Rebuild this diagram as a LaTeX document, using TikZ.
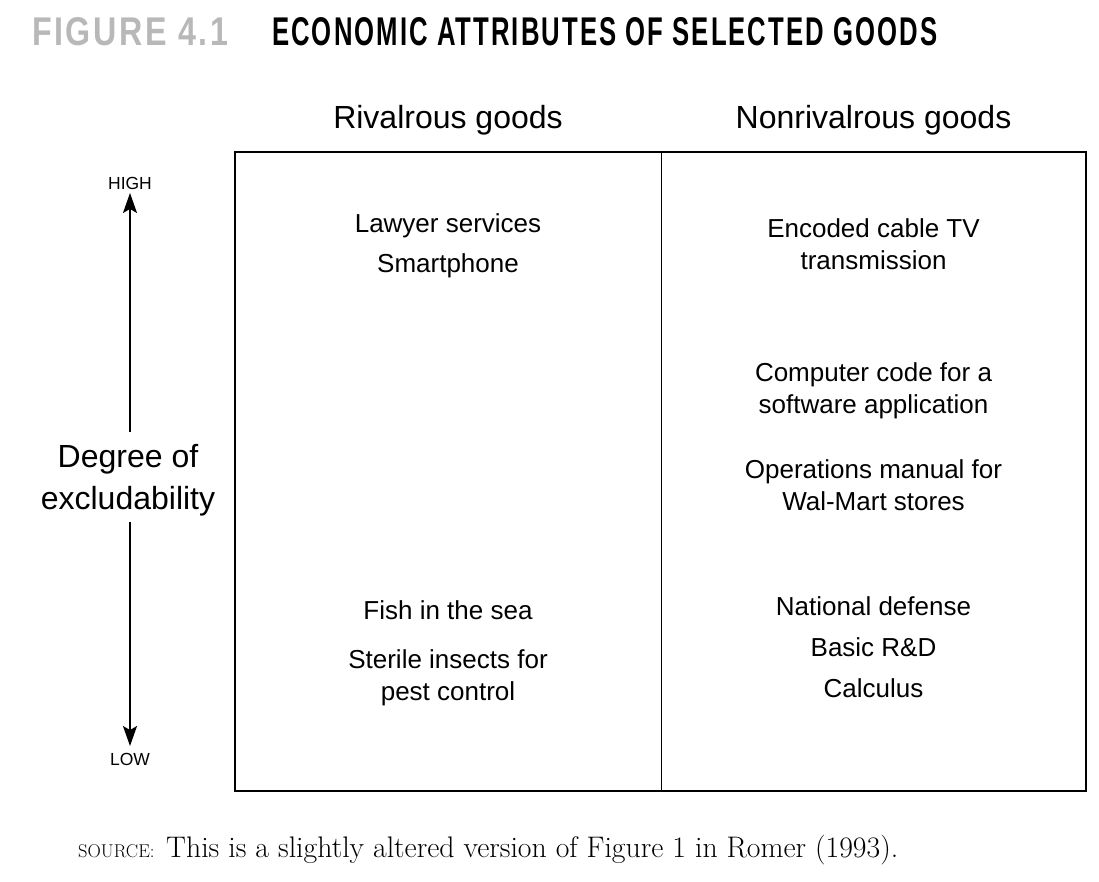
\documentclass[tikz,border=0pt]{standalone}
\usepackage{fontspec}
\usepackage{graphicx}
\usetikzlibrary{arrows.meta}
\newfontfamily\hv{Liberation Sans}
\newfontfamily\ttl[LetterSpace=8]{Liberation Sans}
\definecolor{titlegray}{HTML}{B8B8B8}
\begin{document}
\begin{tikzpicture}[x=1pt,y=-1pt,
  item/.style={anchor=base, inner sep=0pt, font=\hv\fontsize{26}{32}\selectfont},
  head/.style={anchor=base, inner sep=0pt, font=\hv\fontsize{32}{38}\selectfont},
  side/.style={anchor=base, inner sep=0pt, font=\hv\fontsize{32}{38}\selectfont},
  endlabel/.style={anchor=base, inner sep=0pt, font=\hv\fontsize{17.5}{20}\selectfont},
  frame/.style={draw=black, line width=2pt},
  divider/.style={draw=black, line width=1pt},
  axisarrow/.style={draw=black, line width=1.3pt, -{Stealth[length=20pt,width=14pt,inset=4pt]}}]
\useasboundingbox (0,0) rectangle (1099,881);
% title
\node[anchor=base west, inner sep=0pt, text=titlegray] (fig) at (32,45)
  {\resizebox{196pt}{28pt}{\ttl\bfseries FIGURE 4.1}};
\node[anchor=base west, inner sep=0pt] (title) at (272,45)
  {\resizebox{665pt}{28pt}{\ttl\bfseries ECONOMIC ATTRIBUTES OF SELECTED GOODS}};
% box
\coordinate (tl) at (235,152);
\coordinate (br) at (1086,791);
\coordinate (dtop) at (661,152);
\coordinate (dbot) at (661,791);
\draw[frame] (tl) rectangle (br);
\draw[divider] (dtop) -- (dbot);
% headers
\node[head] (rival) at (448,128) {Rivalrous goods};
\node[head] (nonrival) at (873.5,128) {Nonrivalrous goods};
% left column
\node[item] (law) at (448,232) {Lawyer services};
\node[item] (smart) at (448,272) {Smartphone};
\node[item] (fish) at (448,619) {Fish in the sea};
\node[item] (ster1) at (448,668) {Sterile insects for};
\node[item] (ster2) at (448,700) {pest control};
% right column
\node[item] (enc1) at (873.5,237) {Encoded cable TV};
\node[item] (enc2) at (873.5,269) {transmission};
\node[item] (comp1) at (873.5,381) {Computer code for a};
\node[item] (comp2) at (873.5,413) {software application};
\node[item] (ops1) at (873.5,478) {Operations manual for};
\node[item] (ops2) at (873.5,510) {Wal-Mart stores};
\node[item] (nat) at (873.5,615) {National defense};
\node[item] (rd) at (873.5,656) {Basic R\&D};
\node[item] (calc) at (873.5,697) {Calculus};
% side axis
\node[side] (deg1) at (128,467) {Degree of};
\node[side] (deg2) at (128,509) {excludability};
\node[endlabel] (high) at (130,189) {HIGH};
\node[endlabel] (low) at (130,765) {LOW};
\coordinate (upstart) at (130,432);
\coordinate (uptip) at (130,193);
\coordinate (downstart) at (130,522);
\coordinate (downtip) at (130,746);
\draw[axisarrow] (upstart) -- (uptip);
\draw[axisarrow] (downstart) -- (downtip);
% source
\node[anchor=base west, inner sep=0pt] (srclabel) at (78,857)
  {\fontsize{18.5}{22}\selectfont SOURCE:};
\node[anchor=base west, inner sep=0pt] (source) at (166,857)
  {\resizebox{732pt}{!}{\fontsize{27}{32}\selectfont This is a slightly altered version of Figure 1 in Romer (1993).}};
\end{tikzpicture}
\end{document}
